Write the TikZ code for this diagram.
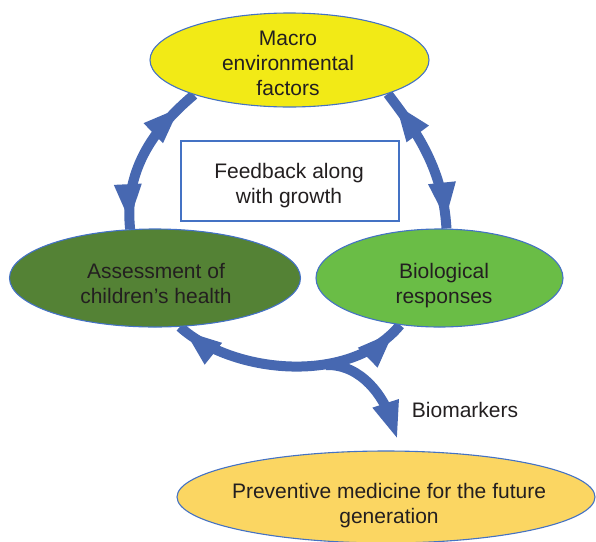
\documentclass[tikz,border=0pt]{standalone}
\usepackage{fontspec}
\setmainfont{Liberation Sans}
\usetikzlibrary{shapes.geometric,decorations.markings}
\definecolor{arrowblue}{RGB}{71,104,177}
\definecolor{edgeblue}{RGB}{68,114,196}
\definecolor{macrofill}{RGB}{242,234,22}
\definecolor{assessfill}{RGB}{84,130,53}
\definecolor{biofill}{RGB}{106,189,70}
\definecolor{prevfill}{RGB}{251,214,98}
\definecolor{inktext}{RGB}{35,31,32}
\pgfdeclarelayer{under}
\pgfsetlayers{under,main}

\begin{document}
\begin{tikzpicture}[x=1pt,y=-1pt,
  oval/.style={ellipse, draw=edgeblue, line width=1.1pt, inner sep=0pt},
  txt/.style={text=inktext, font=\fontsize{21}{25}\selectfont, align=center, inner sep=0pt},
  fbbox/.style={rectangle, draw=edgeblue, line width=1.1pt, fill=white, inner sep=0pt,
    minimum width=218pt, minimum height=80pt},
  shaft/.style={draw=arrowblue, line width=10pt},
  headfwd/.style={postaction={decorate, decoration={markings,
    mark=at position #1 with {\fill[arrowblue] (-36,-14) -- (0,0) -- (-36,14) -- cycle;}}}},
  headbwd/.style={postaction={decorate, decoration={markings,
    mark=at position #1 with {\fill[arrowblue] (36,-14) -- (0,0) -- (36,14) -- cycle;}}}}
]
\useasboundingbox (0,0) rectangle (596,541);

% the four stages of the cycle
\node[oval, fill=macrofill, minimum width=279pt, minimum height=94pt,
  label={[txt, xshift=-1.5pt, yshift=-2.9pt]center:{Macro\\environmental\\factors}}]
  (macro) at (289.5,60) {};
\node[oval, fill=assessfill, minimum width=291pt, minimum height=98pt,
  label={[txt, xshift=1pt, yshift=-5.2pt]center:{Assessment of\\children’s health}}]
  (assess) at (155,278) {};
\node[oval, fill=biofill, minimum width=247pt, minimum height=98pt,
  label={[txt, xshift=4.5pt, yshift=-7.2pt]center:{Biological\\responses}}]
  (bio) at (439.5,278) {};
\node[oval, fill=prevfill, minimum width=418pt, minimum height=92pt,
  label={[txt, xshift=3pt, yshift=-8.2pt]center:{Preventive medicine for the future\\generation}}]
  (prev) at (386,497) {};

% central note
\node[fbbox, label={[txt, xshift=-1pt, yshift=-4.2pt]center:{Feedback along\\with growth}}]
  (fb) at (290,181) {};

% label of the outgoing branch
\node[txt] (bm) at (465,409.6) {Biomarkers};

% curved double-headed arrows, kept beneath the ovals
\begin{pgfonlayer}{under}
\draw[shaft, headbwd=20pt, headfwd=-9pt]
  (macro.200) .. controls (152,130) and (124,172) .. (assess.117);
\draw[shaft, headbwd=14pt, headfwd=-10pt]
  (macro.341) .. controls (412,126) and (443,165) .. (bio.82);
\draw[shaft, headbwd=7pt, headfwd=-10pt]
  (assess.297) .. controls (232,374) and (350,386) .. (bio.230);
\coordinate (fork) at (326,365);
\coordinate (bmtip) at (397,438);
\draw[shaft, shorten >=20pt] (fork) .. controls (362,364) and (384,398) .. (bmtip);
\path[headfwd=-0.5pt] (fork) .. controls (362,364) and (384,398) .. (bmtip);
\end{pgfonlayer}
\end{tikzpicture}
\end{document}
